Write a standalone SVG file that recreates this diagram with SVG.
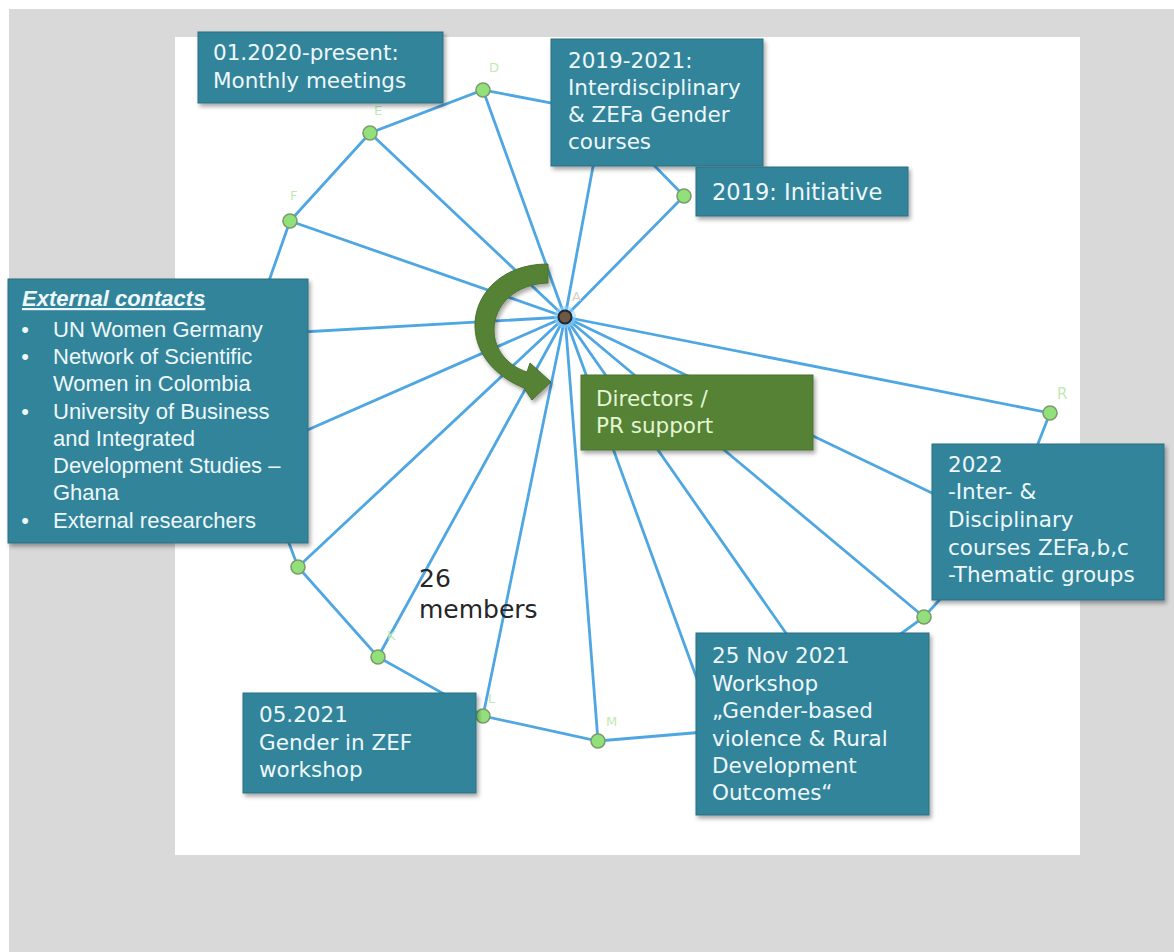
<svg xmlns="http://www.w3.org/2000/svg" width="1174" height="952" viewBox="0 0 1174 952">
<style>
.edge{stroke:#4ea6e2;stroke-width:2.8;fill:none;stroke-linecap:round}
.node{fill:#92e07a;stroke:#7b9b6c;stroke-width:1.6}
.lbl{font-family:"DejaVu Sans",sans-serif;font-size:13px;fill:#bfe9b2}
.box{fill:#31849b;stroke:#2a6e81;stroke-width:1}
.gbox{fill:#548235;stroke:#4a7330;stroke-width:1}
.bt{font-family:"DejaVu Sans",sans-serif;font-size:21.5px;fill:#eef8fb}
.gt{font-family:"DejaVu Sans",sans-serif;font-size:21.5px;fill:#e4f6d4}
.et{font-family:"Liberation Sans",Arial,sans-serif;font-size:22px;fill:#eef8fb}
</style>
<defs>
<filter id="sh" x="-10%" y="-10%" width="130%" height="130%">
<feDropShadow dx="2" dy="3" stdDeviation="2" flood-color="#000" flood-opacity="0.35"/>
</filter>
</defs>
<rect x="0" y="0" width="1174" height="952" fill="#ffffff"/>
<rect x="9" y="9" width="1165" height="943" fill="#d9d9d9"/>
<rect x="175" y="37" width="905" height="818" fill="#ffffff"/>

<g id="connectors">
<!-- spokes from A -->
<line class="edge" x1="565" y1="317" x2="684" y2="196"/>
<line class="edge" x1="565" y1="317" x2="603" y2="113"/>
<line class="edge" x1="565" y1="317" x2="483" y2="90"/>
<line class="edge" x1="565" y1="317" x2="370" y2="133"/>
<line class="edge" x1="565" y1="317" x2="290" y2="221"/>
<line class="edge" x1="565" y1="317" x2="250" y2="335"/>
<line class="edge" x1="565" y1="317" x2="255" y2="453"/>
<line class="edge" x1="565" y1="317" x2="298" y2="567"/>
<line class="edge" x1="565" y1="317" x2="378" y2="657"/>
<line class="edge" x1="565" y1="317" x2="483" y2="716"/>
<line class="edge" x1="565" y1="317" x2="598" y2="741"/>
<line class="edge" x1="565" y1="317" x2="716" y2="731"/>
<line class="edge" x1="565" y1="317" x2="825" y2="689"/>
<line class="edge" x1="565" y1="317" x2="924" y2="617"/>
<line class="edge" x1="565" y1="317" x2="1005" y2="528"/>
<line class="edge" x1="565" y1="317" x2="1050" y2="413"/>
<!-- ring -->
<polyline class="edge" points="684,196 603,113 483,90 370,133 290,221 250,335 255,453 298,567 378,657 483,716 598,741 716,731 825,689 924,617 1005,528 1050,413"/>
</g>

<g id="center-A">
<circle cx="565" cy="317" r="11" fill="#8fd3ff" opacity="0.55"/>
<circle cx="565" cy="317" r="6.5" fill="#6e5a44" stroke="#1d2730" stroke-width="2"/>
<text class="lbl" x="572" y="301" style="fill:#d8d0c4">A</text>
</g>
<g id="node-B"><circle class="node" cx="684" cy="196" r="7"/></g>
<g id="node-C"><circle class="node" cx="603" cy="113" r="7"/></g>
<g id="node-D"><circle class="node" cx="483" cy="90" r="7"/><text class="lbl" x="489" y="72">D</text></g>
<g id="node-E"><circle class="node" cx="370" cy="133" r="7"/><text class="lbl" x="374" y="115">E</text></g>
<g id="node-F"><circle class="node" cx="290" cy="221" r="7"/><text class="lbl" x="290" y="200">F</text></g>
<g id="node-G"><circle class="node" cx="250" cy="335" r="7"/></g>
<g id="node-H"><circle class="node" cx="255" cy="453" r="7"/></g>
<g id="node-J"><circle class="node" cx="298" cy="567" r="7"/></g>
<g id="node-K"><circle class="node" cx="378" cy="657" r="7"/><text class="lbl" x="387" y="640">K</text></g>
<g id="node-L"><circle class="node" cx="483" cy="716" r="7"/><text class="lbl" x="488" y="703">L</text></g>
<g id="node-M"><circle class="node" cx="598" cy="741" r="7"/><text class="lbl" x="606" y="726">M</text></g>
<g id="node-N"><circle class="node" cx="716" cy="731" r="7"/></g>
<g id="node-O"><circle class="node" cx="825" cy="689" r="7"/></g>
<g id="node-P"><circle class="node" cx="924" cy="617" r="7"/></g>
<g id="node-Q"><circle class="node" cx="1005" cy="528" r="7"/></g>
<g id="node-R"><circle class="node" cx="1050" cy="413" r="7"/><text class="lbl" x="1057" y="399" style="font-size:15px">R</text></g>

<g id="box-monthly">
<rect class="box" x="198" y="32" width="245" height="71" filter="url(#sh)"/>
<text class="bt" x="213" y="60">01.2020-present:</text>
<text class="bt" x="213" y="88">Monthly meetings</text>
</g>

<g id="box-courses">
<rect class="box" x="551" y="39" width="212" height="127" filter="url(#sh)"/>
<text class="bt" x="568" y="68">2019-2021:</text>
<text class="bt" x="568" y="95">Interdisciplinary</text>
<text class="bt" x="568" y="122">&amp; ZEFa Gender</text>
<text class="bt" x="568" y="149">courses</text>
</g>

<g id="box-initiative">
<rect class="box" x="696" y="167" width="212" height="49" filter="url(#sh)"/>
<text class="bt" x="712" y="200" style="font-size:22.5px">2019: Initiative</text>
</g>

<g id="box-external">
<rect class="box" x="8" y="279" width="300" height="264" filter="url(#sh)"/>
<text class="et" x="22" y="306" font-weight="bold" font-style="italic" text-decoration="underline">External contacts</text>
<text class="et" x="25" y="337" text-anchor="middle">•</text>
<text class="et" x="53" y="337">UN Women Germany</text>
<text class="et" x="25" y="364" text-anchor="middle">•</text>
<text class="et" x="53" y="364">Network of Scientific</text>
<text class="et" x="53" y="391">Women in Colombia</text>
<text class="et" x="25" y="419" text-anchor="middle">•</text>
<text class="et" x="53" y="419">University of Business</text>
<text class="et" x="53" y="446">and Integrated</text>
<text class="et" x="53" y="473">Development Studies –</text>
<text class="et" x="53" y="500">Ghana</text>
<text class="et" x="25" y="528" text-anchor="middle">•</text>
<text class="et" x="53" y="528">External researchers</text>
</g>

<g id="box-directors">
<rect class="gbox" x="581" y="375" width="232" height="75" filter="url(#sh)"/>
<text class="gt" x="596" y="406">Directors /</text>
<text class="gt" x="596" y="433">PR support</text>
</g>

<g id="box-2022">
<rect class="box" x="932" y="444" width="232" height="156" filter="url(#sh)"/>
<text class="bt" x="948" y="472">2022</text>
<text class="bt" x="948" y="499">-Inter- &amp;</text>
<text class="bt" x="948" y="527">Disciplinary</text>
<text class="bt" x="948" y="555">courses ZEFa,b,c</text>
<text class="bt" x="948" y="582">-Thematic groups</text>
</g>

<g id="box-nov2021">
<rect class="box" x="696" y="633" width="233" height="182" filter="url(#sh)"/>
<text class="bt" x="712" y="663">25 Nov 2021</text>
<text class="bt" x="712" y="691">Workshop</text>
<text class="bt" x="712" y="718">„Gender-based</text>
<text class="bt" x="712" y="746">violence &amp; Rural</text>
<text class="bt" x="712" y="773">Development</text>
<text class="bt" x="712" y="800">Outcomes“</text>
</g>

<g id="box-may2021">
<rect class="box" x="243" y="693" width="233" height="100" filter="url(#sh)"/>
<text class="bt" x="259" y="722">05.2021</text>
<text class="bt" x="259" y="750">Gender in ZEF</text>
<text class="bt" x="259" y="777">workshop</text>
</g>

<g id="curved-arrow">
<path d="M548,264 C500,264 474,296 475,327 C476,357 499,378 524,388 L532,400 L551,382 L530,363 L527,372 C508,366 494,350 494,330 C494,305 515,284 548,283 Z" fill="#548235" stroke="#4a7330" stroke-width="1" filter="url(#sh)"/>
</g>

<g id="members-label">
<text x="419" y="587" font-family="DejaVu Sans, sans-serif" font-size="25" fill="#262626">26</text>
<text x="419" y="618" font-family="DejaVu Sans, sans-serif" font-size="25" fill="#262626">members</text>
</g>
</svg>
